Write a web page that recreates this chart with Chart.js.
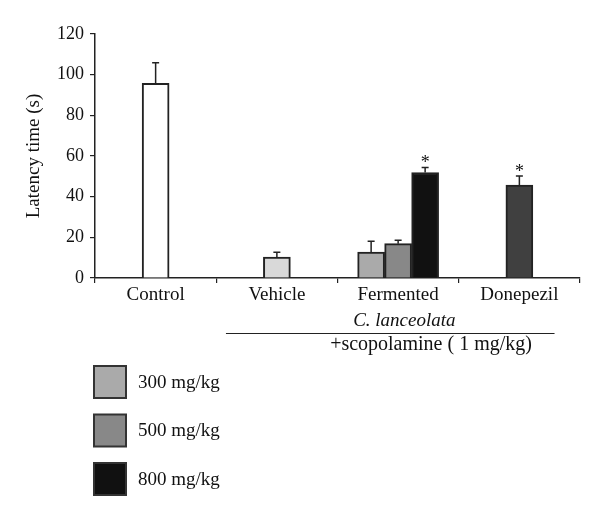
<!DOCTYPE html>
<html lang="en">
<head>
    <meta charset="UTF-8">
    <title>Latency time</title>
    <script src="https://cdn.jsdelivr.net/npm/chart.js"></script>
    <style>
        html, body { margin: 0; padding: 0; background: #fff; }
        #wrap { width: 600px; height: 516px; }
    </style>
</head>
<body>
<div id="wrap"><canvas id="latencyChart" width="600" height="516"></canvas></div>
<script>
    const categories = ["Control", "Vehicle", "Fermented", "Donepezil"];
    const yTicks = [0, 20, 40, 60, 80, 100, 120];

    // single bars (control, vehicle, donepezil)
    const singleValues = [95.8, 10.3, null, 45.7];
    const singleErrors = [10.1, 2.4, null, 4.5];
    const singleColors = ["#ffffff", "#d9d9d9", "#ffffff", "#404040"];
    const singleStars = [false, false, false, true];

    // fermented C. lanceolata doses
    const doseLabels = ["300 mg/kg", "500 mg/kg", "800 mg/kg"];
    const doseColors = ["#aaaaaa", "#888888", "#111111"];
    const dose300 = [null, null, 12.8, null];
    const dose500 = [null, null, 16.9, null];
    const dose800 = [null, null, 51.9, null];
    const dose300Err = [null, null, 5.3, null];
    const dose500Err = [null, null, 1.7, null];
    const dose800Err = [null, null, 2.5, null];
    const doseStars = [false, false, true];

    const serif = "'Liberation Serif', 'DejaVu Serif', serif";

    const errorBars = {
        id: "errorBars",
        afterDatasetsDraw(chart) {
            const ctx = chart.ctx;
            const y = chart.scales.y;
            ctx.save();
            ctx.strokeStyle = "#222";
            ctx.lineWidth = 1.5;
            chart.data.datasets.forEach((ds, di) => {
                const meta = chart.getDatasetMeta(di);
                meta.data.forEach((bar, i) => {
                    const v = ds.data[i];
                    const e = ds.errors[i];
                    if (v == null || e == null) return;
                    const top = y.getPixelForValue(v + e);
                    ctx.beginPath();
                    ctx.moveTo(bar.x, bar.y);
                    ctx.lineTo(bar.x, top);
                    ctx.moveTo(bar.x - 3.5, top);
                    ctx.lineTo(bar.x + 3.5, top);
                    ctx.stroke();
                    if (ds.stars[i]) {
                        ctx.fillStyle = "#111";
                        ctx.font = "18px " + serif;
                        ctx.textAlign = "center";
                        ctx.textBaseline = "bottom";
                        ctx.fillText("*", bar.x, top + 5);
                    }
                });
            });
            ctx.restore();
        }
    };

    const annotations = {
        id: "annotations",
        afterDraw(chart) {
            const ctx = chart.ctx;
            const x = chart.scales.x;
            const catW = x.getPixelForValue(1) - x.getPixelForValue(0);
            ctx.save();
            ctx.fillStyle = "#111";
            ctx.font = "italic 19px " + serif;
            ctx.textAlign = "left";
            ctx.textBaseline = "alphabetic";
            ctx.fillText("C. lanceolata", x.getPixelForValue(2) - 45, 326);

            // bracket under vehicle / fermented / donepezil
            ctx.strokeStyle = "#222";
            ctx.lineWidth = 1.2;
            ctx.beginPath();
            ctx.moveTo(x.getPixelForValue(1) - catW * 0.42, 333.5);
            ctx.lineTo(x.getPixelForValue(3) + catW * 0.29, 333.5);
            ctx.stroke();
            ctx.font = "20px " + serif;
            ctx.fillText("+scopolamine ( 1 mg/kg)", x.getPixelForValue(2) - 68, 350);

            // legend
            ctx.font = "19px " + serif;
            doseLabels.forEach((lab, i) => {
                const top = 366 + i * 48.5;
                ctx.fillStyle = doseColors[i];
                ctx.fillRect(94, top, 32, 32);
                ctx.strokeStyle = "#333";
                ctx.lineWidth = 2;
                ctx.strokeRect(94, top, 32, 32);
                ctx.fillStyle = "#111";
                ctx.textBaseline = "middle";
                ctx.fillText(lab, 138, top + 17);
            });
            ctx.restore();
        }
    };

    const doseData = [dose300, dose500, dose800];
    const doseErr = [dose300Err, dose500Err, dose800Err];

    const datasets = [{
        label: "single",
        data: singleValues,
        errors: singleErrors,
        stars: singleStars,
        backgroundColor: singleColors,
        borderColor: "#222",
        borderWidth: 2
    }];
    doseLabels.forEach((lab, i) => {
        datasets.push({
            label: lab,
            data: doseData[i],
            errors: doseErr[i],
            stars: [false, false, doseStars[i], false],
            backgroundColor: doseColors[i],
            borderColor: "#222",
            borderWidth: 2
        });
    });

    new Chart(document.getElementById("latencyChart"), {
        type: "bar",
        data: { labels: categories, datasets: datasets },
        options: {
            responsive: false,
            animation: false,
            skipNull: true,
            barThickness: 27,
            layout: { padding: { left: 0, right: 20, top: 34, bottom: 0 } },
            plugins: {
                legend: { display: false },
                tooltip: { enabled: false }
            },
            scales: {
                x: {
                    offset: true,
                    grid: { offset: true, drawOnChartArea: false, tickLength: 5, color: "#222", lineWidth: 1.2 },
                    border: { display: true, color: "#222", width: 1.5 },
                    ticks: { color: "#111", font: { family: serif, size: 19 }, padding: 1, maxRotation: 0 },
                    afterFit(scale) { scale.height = 238; }
                },
                y: {
                    min: 0,
                    max: 120,
                    afterBuildTicks(scale) { scale.ticks = yTicks.map(v => ({ value: v })); },
                    grid: { drawOnChartArea: false, tickLength: 5, color: "#222", lineWidth: 1.2 },
                    border: { display: true, color: "#222", width: 1.5 },
                    ticks: { color: "#111", font: { family: serif, size: 18 }, padding: 6 },
                    title: { display: true, text: "Latency time (s)", color: "#111", font: { family: serif, size: 19 }, padding: { top: 23, bottom: 0 } },
                    afterFit(scale) { scale.width = 95; }
                }
            }
        },
        plugins: [errorBars, annotations]
    });
</script>
</body>
</html>
